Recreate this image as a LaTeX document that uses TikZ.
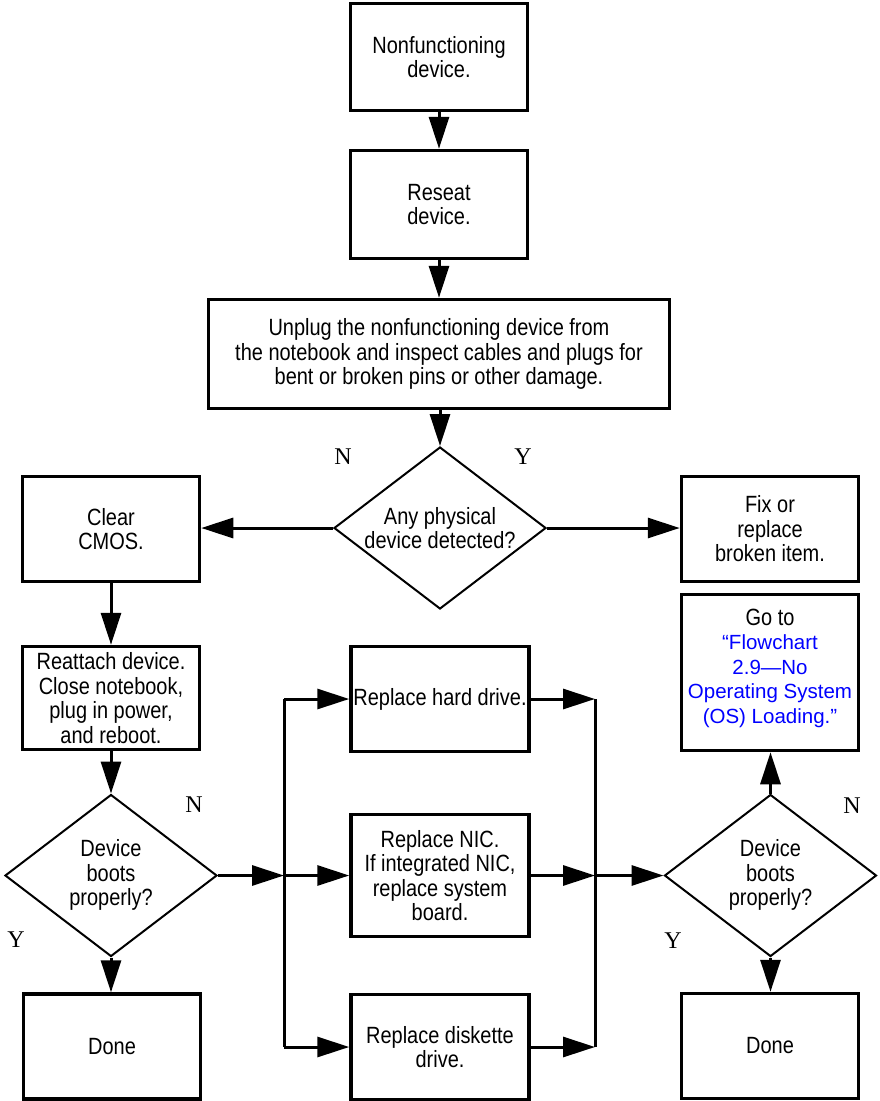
\documentclass[tikz,border=0pt]{standalone}
\usepackage{fontspec}
\setmainfont{Liberation Sans}[FakeStretch=0.85]
\newfontfamily\linkfont{Liberation Sans}
\newfontfamily\ynfont{Liberation Serif}
\usetikzlibrary{shapes.geometric,arrows.meta}
\definecolor{linkblue}{RGB}{0,0,255}
\newcommand{\lnk}[1]{{\linkfont\fontsize{20.5}{24.5}\selectfont\color{linkblue}#1}}

\begin{document}
\begin{tikzpicture}[x=1pt, y=-1pt,
     every node/.style={font=\fontsize{23.5}{24.5}\selectfont, align=center},
     box/.style={draw, line width=3.5pt, minimum width=177pt, minimum height=105pt, inner sep=0pt},
     decision/.style={diamond, draw, line width=2pt, minimum width=212pt, minimum height=162pt, inner sep=0pt},
     conn/.style={line width=3pt, -{Triangle[length=32pt,width=20pt]}},
     bus/.style={line width=3pt},
     yn/.style={font=\ynfont\fontsize{24}{24}\selectfont}]

   \useasboundingbox (0,0) rectangle (879,1101);

   % top column
   \node[box, minimum height=107pt] (start) at (439,57) {Nonfunctioning\\device.};
   \node[box, minimum height=108pt] (reseat) at (439,204.5) {Reseat\\device.};
   \node[box, minimum width=461pt, minimum height=109pt] (unplug) at (439,354) {Unplug the nonfunctioning device from\\the notebook and inspect cables and plugs for\\bent or broken pins or other damage.};
   \node[decision] (d1) at (440,528) {};
   \node (d1txt) at (440,528) {Any physical\\device detected?};

   % left column
   \node[box] (cmos) at (111,529) {Clear\\CMOS.};
   \node[box, minimum height=103pt] (reattach) at (111,698) {Reattach device.\\Close notebook,\\plug in power,\\and reboot.};
   \node[decision] (d2) at (111,875.5) {};
   \node (d2txt) at (111,875) {Device\\boots\\properly?};
   \node[box] (done1) at (112,1046.5) {Done};

   % middle column
   \node[box, minimum width=178pt] (hard) at (440,699) {Replace hard drive.};
   \node[box, minimum width=178pt, minimum height=122pt] (nic) at (440,875.5) {Replace NIC.\\If integrated NIC,\\replace system\\board.};
   \node[box, minimum width=178pt] (disk) at (440,1047) {Replace diskette\\drive.};

   % right column
   \node[box] (fix) at (770,529) {Fix or\\replace\\broken item.};
   \node[box, minimum height=156pt] (goto) at (770,672.5) {};
   \node (gototxt) at (770,668) {Go to\\\lnk{“Flowchart}\\\lnk{2.9—No}\\\lnk{Operating System}\\\lnk{(OS) Loading.”}};
   \node[decision] (d3) at (770.5,875.5) {};
   \node (d3txt) at (770.5,875) {Device\\boots\\properly?};
   \node[box] (done2) at (770,1046) {Done};

   \node[yn] (n1) at (343,457) {N};
   \node[yn] (y1) at (523,457) {Y};
   \node[yn] (n2) at (194,805) {N};
   \node[yn] (y2) at (16,940) {Y};
   \node[yn] (n3) at (852,806) {N};
   \node[yn] (y3) at (673,941) {Y};

   \coordinate (lbus) at (284,875.5);
   \coordinate (rbus) at (595,875.5);

   \draw[conn] (start) -- (reseat);
   \draw[conn] (reseat) -- (unplug);
   \draw[conn] (unplug.south -| d1.north) -- (d1.north);
   \draw[conn] (d1.west) -- (cmos.east |- d1.west);
   \draw[conn] (d1.east) -- (fix.west |- d1.east);
   \draw[conn] (cmos) -- (reattach);
   \draw[conn] (reattach.south -| d2.north) -- (d2.north);
   \draw[conn] (d2.south) -- (done1.north -| d2.south);
   \draw[conn] (d2.east) -- (lbus);
   \draw[bus] (hard.west -| lbus) -- (disk.west -| lbus);
   \draw[conn] (hard.west -| lbus) -- (hard.west);
   \draw[conn] (lbus) -- (nic.west);
   \draw[conn] (disk.west -| lbus) -- (disk.west);
   \draw[conn] (hard.east) -- (hard.east -| rbus);
   \draw[conn] (nic.east) -- (rbus);
   \draw[conn] (disk.east) -- (disk.east -| rbus);
   \draw[bus] (hard.east -| rbus) -- (disk.east -| rbus);
   \draw[conn] (rbus) -- (d3.west);
   \draw[conn] (d3.north) -- (goto.south -| d3.north);
   \draw[conn] (d3.south) -- (done2.north -| d3.south);
\end{tikzpicture}
\end{document}
